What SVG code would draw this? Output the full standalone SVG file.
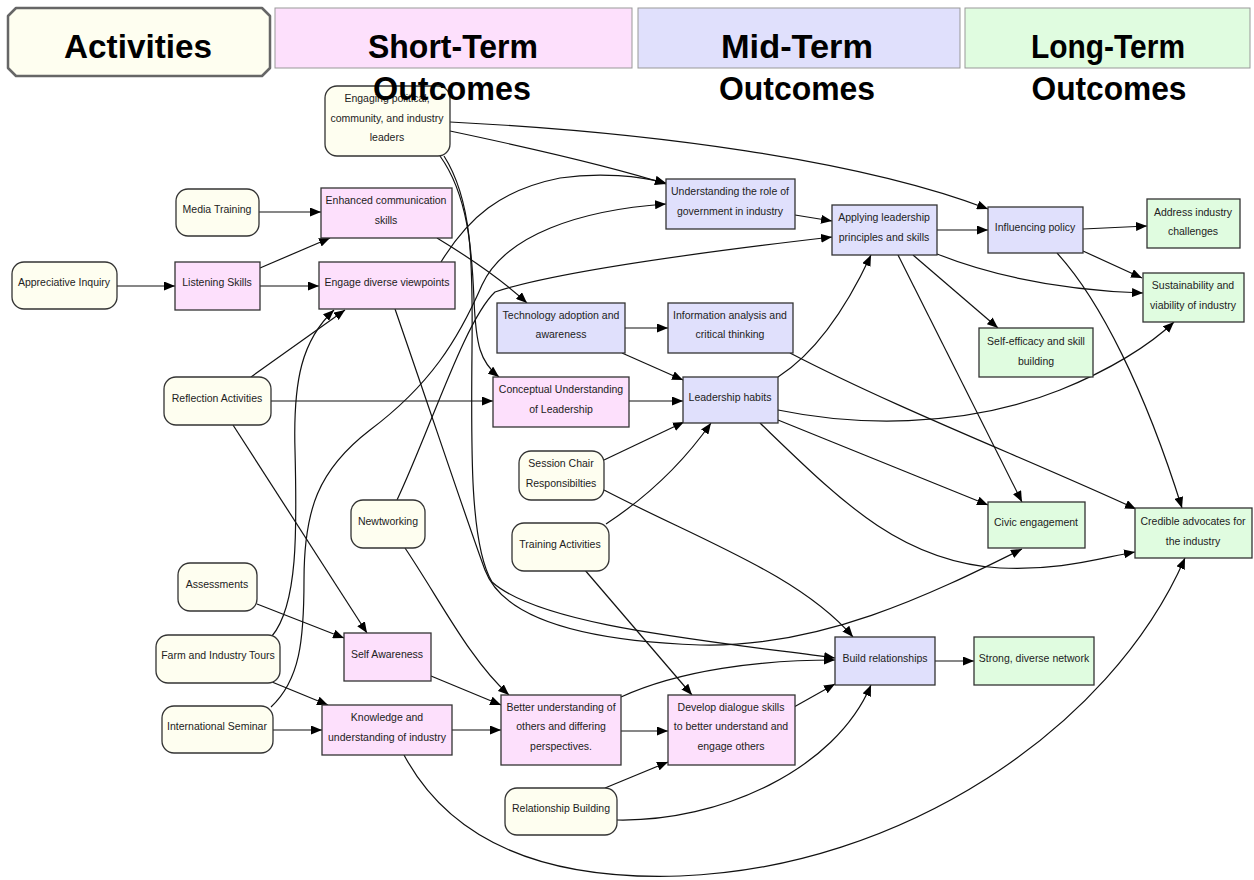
<svg xmlns="http://www.w3.org/2000/svg" width="1254" height="880" viewBox="0 0 1254 880">
<defs>
<marker id="ah" markerWidth="11" markerHeight="9" refX="11" refY="4.5" orient="auto" markerUnits="userSpaceOnUse"><path d="M0,0 L11,4.5 L0,9 z" fill="#000"/></marker>
<style>
.act{fill:#fefef0;stroke:#333;stroke-width:1.3}
.st{fill:#fde0fc;stroke:#333;stroke-width:1.3}
.mt{fill:#e0e0fc;stroke:#333;stroke-width:1.3}
.lt{fill:#e0fce0;stroke:#333;stroke-width:1.3}
.lbl{font-family:"Liberation Sans",Arial,sans-serif;font-size:10.5px;fill:#222;text-anchor:middle}
.edges path{fill:none;stroke:#111;stroke-width:1.2;marker-end:url(#ah)}
.hd{font-family:"Liberation Sans",Arial,sans-serif;font-weight:bold;font-size:34px;fill:#000;text-anchor:middle}
</style>
</defs>
<rect width="1254" height="880" fill="#fff"/>

<g id="connectors" class="edges">
<path d="M 259 212 L 321 212"/>
<path d="M 117 286 L 175 286"/>
<path d="M 260 268 L 330 238"/>
<path d="M 260 286 L 319 286"/>
<path d="M 437 238 C 470 258, 500 278, 527 303"/>
<path d="M 450 131 C 540 150, 610 166, 666 184"/>
<path d="M 450 122 C 650 132, 860 160, 988 209"/>
<path d="M 440 156 C 468 195, 472 250, 474 300 C 476 345, 480 362, 499 377"/>
<path d="M 444 156 C 472 200, 473 260, 472 350 C 471 450, 470 545, 492 582 C 540 625, 700 640, 835 658"/>
<path d="M 441 262 C 468 218, 500 190, 560 178 C 600 172, 640 176, 666 183"/>
<path d="M 395 309 C 430 410, 470 530, 485 570 C 500 610, 560 640, 700 645 C 820 648, 930 595, 1022 549"/>
<path d="M 251 377 L 345 310"/>
<path d="M 272 636 C 298 605, 297 530, 295 450 C 293 380, 302 340, 334 310"/>
<path d="M 271 401 L 493 401"/>
<path d="M 233 425 L 367 633"/>
<path d="M 271 707 C 300 680, 304 640, 304 580 C 304 510, 318 470, 370 430 C 430 385, 458 340, 482 285 C 505 235, 580 210, 666 204"/>
<path d="M 397 500 C 430 430, 465 320, 495 292 C 560 270, 720 250, 832 237"/>
<path d="M 405 548 C 440 600, 470 660, 509 695"/>
<path d="M 257 604 L 344 638"/>
<path d="M 272 682 L 328 705"/>
<path d="M 273 730 L 322 730"/>
<path d="M 431 676 L 501 705"/>
<path d="M 452 730 L 501 730"/>
<path d="M 404 755 C 455 850, 560 880, 680 876 C 900 868, 1110 730, 1185 558"/>
<path d="M 621 731 L 668 731"/>
<path d="M 621 697 C 680 670, 760 660, 835 660"/>
<path d="M 794 707 L 835 684"/>
<path d="M 605 788 L 668 762"/>
<path d="M 617 820 C 720 822, 835 770, 871 685"/>
<path d="M 604 460 L 684 422"/>
<path d="M 604 490 C 700 540, 800 575, 853 637"/>
<path d="M 606 524 C 650 495, 685 460, 711 423"/>
<path d="M 584 569 L 692 695"/>
<path d="M 629 401 L 683 401"/>
<path d="M 625 328 L 668 328"/>
<path d="M 622 353 L 683 380"/>
<path d="M 795 215 L 832 221"/>
<path d="M 790 353 C 900 410, 1030 460, 1136 509"/>
<path d="M 778 377 C 820 350, 850 300, 871 255"/>
<path d="M 778 410 C 850 425, 960 430, 1060 390 C 1110 370, 1150 345, 1174 322"/>
<path d="M 778 420 L 988 505"/>
<path d="M 760 423 C 840 500, 900 562, 1000 568 C 1060 571, 1100 558, 1135 552"/>
<path d="M 937 230 L 988 230"/>
<path d="M 937 254 C 990 275, 1060 290, 1143 293"/>
<path d="M 913 255 L 998 328"/>
<path d="M 898 255 L 1022 502"/>
<path d="M 1083 229 L 1147 226"/>
<path d="M 1083 251 L 1142 278"/>
<path d="M 1057 253 C 1100 300, 1145 390, 1182 508"/>
<path d="M 935 661 L 974 661"/>
</g>

<g id="n_engaging"><rect class="act" x="325" y="86" width="125" height="70" rx="12"/><text class="lbl" x="387" y="102">Engaging political,</text><text class="lbl" x="387" y="122">community, and industry</text><text class="lbl" x="387" y="141">leaders</text></g>
<g id="n_media"><rect class="act" x="176" y="189" width="83" height="47" rx="12"/><text class="lbl" x="217" y="213">Media Training</text></g>
<g id="n_appreciative"><rect class="act" x="12" y="262" width="105" height="47" rx="12"/><text class="lbl" x="64" y="286">Appreciative Inquiry</text></g>
<g id="n_reflection"><rect class="act" x="164" y="377" width="107" height="48" rx="12"/><text class="lbl" x="217" y="402">Reflection Activities</text></g>
<g id="n_newtworking"><rect class="act" x="351" y="500" width="74" height="48" rx="12"/><text class="lbl" x="388" y="525">Newtworking</text></g>
<g id="n_session"><rect class="act" x="519" y="451" width="85" height="49" rx="12"/><text class="lbl" x="561" y="467">Session Chair</text><text class="lbl" x="561" y="487">Responsibilties</text></g>
<g id="n_training"><rect class="act" x="512" y="523" width="97" height="48" rx="12"/><text class="lbl" x="560" y="548">Training Activities</text></g>
<g id="n_assessments"><rect class="act" x="178" y="563" width="79" height="48" rx="12"/><text class="lbl" x="217" y="588">Assessments</text></g>
<g id="n_farm"><rect class="act" x="156" y="635" width="124" height="48" rx="12"/><text class="lbl" x="218" y="659">Farm and Industry Tours</text></g>
<g id="n_intl"><rect class="act" x="162" y="706" width="111" height="47" rx="12"/><text class="lbl" x="217" y="730">International Seminar</text></g>
<g id="n_relbuild"><rect class="act" x="505" y="788" width="112" height="47" rx="12"/><text class="lbl" x="561" y="812">Relationship Building</text></g>

<g id="n_enhanced"><rect class="st" x="321" y="188" width="131" height="50"/><text class="lbl" x="386" y="204">Enhanced communication</text><text class="lbl" x="386" y="224">skills</text></g>
<g id="n_listening"><rect class="st" x="175" y="262" width="85" height="48"/><text class="lbl" x="217" y="286">Listening Skills</text></g>
<g id="n_engage"><rect class="st" x="319" y="262" width="136" height="47"/><text class="lbl" x="387" y="286">Engage diverse viewpoints</text></g>
<g id="n_conceptual"><rect class="st" x="493" y="377" width="136" height="50"/><text class="lbl" x="561" y="393">Conceptual Understanding</text><text class="lbl" x="561" y="413">of Leadership</text></g>
<g id="n_selfaware"><rect class="st" x="344" y="633" width="87" height="48"/><text class="lbl" x="387" y="658">Self Awareness</text></g>
<g id="n_knowledge"><rect class="st" x="322" y="705" width="130" height="50"/><text class="lbl" x="387" y="721">Knowledge and</text><text class="lbl" x="387" y="741">understanding of industry</text></g>
<g id="n_better"><rect class="st" x="501" y="695" width="120" height="70"/><text class="lbl" x="561" y="711">Better understanding of</text><text class="lbl" x="561" y="730">others and differing</text><text class="lbl" x="561" y="750">perspectives.</text></g>
<g id="n_develop"><rect class="st" x="668" y="695" width="127" height="70"/><text class="lbl" x="731" y="711">Develop dialogue skills</text><text class="lbl" x="731" y="730">to better understand and</text><text class="lbl" x="731" y="750">engage others</text></g>

<g id="n_understanding"><rect class="mt" x="666" y="179" width="129" height="50"/><text class="lbl" x="730" y="195">Understanding the role of</text><text class="lbl" x="730" y="215">government in industry</text></g>
<g id="n_applying"><rect class="mt" x="832" y="205" width="105" height="50"/><text class="lbl" x="884" y="221">Applying leadership</text><text class="lbl" x="884" y="241">principles and skills</text></g>
<g id="n_influencing"><rect class="mt" x="988" y="207" width="95" height="46"/><text class="lbl" x="1035" y="231">Influencing policy</text></g>
<g id="n_tech"><rect class="mt" x="497" y="303" width="128" height="50"/><text class="lbl" x="561" y="319">Technology adoption and</text><text class="lbl" x="561" y="338">awareness</text></g>
<g id="n_info"><rect class="mt" x="668" y="303" width="125" height="50"/><text class="lbl" x="730" y="319">Information analysis and</text><text class="lbl" x="730" y="338">critical thinking</text></g>
<g id="n_leadership"><rect class="mt" x="683" y="377" width="95" height="46"/><text class="lbl" x="730" y="401">Leadership habits</text></g>
<g id="n_build"><rect class="mt" x="835" y="637" width="100" height="48"/><text class="lbl" x="885" y="662">Build relationships</text></g>

<g id="n_address"><rect class="lt" x="1147" y="199" width="93" height="49"/><text class="lbl" x="1193" y="216">Address industry</text><text class="lbl" x="1193" y="235">challenges</text></g>
<g id="n_sustain"><rect class="lt" x="1143" y="273" width="101" height="49"/><text class="lbl" x="1193" y="289">Sustainability and</text><text class="lbl" x="1193" y="309">viability of industry</text></g>
<g id="n_selfeff"><rect class="lt" x="979" y="328" width="114" height="49"/><text class="lbl" x="1036" y="345">Self-efficacy and skill</text><text class="lbl" x="1036" y="365">building</text></g>
<g id="n_civic"><rect class="lt" x="988" y="502" width="97" height="46"/><text class="lbl" x="1036" y="526">Civic engagement</text></g>
<g id="n_credible"><rect class="lt" x="1135" y="508" width="117" height="50"/><text class="lbl" x="1193" y="525">Credible advocates for</text><text class="lbl" x="1193" y="545">the industry</text></g>
<g id="n_strong"><rect class="lt" x="974" y="637" width="120" height="48"/><text class="lbl" x="1034" y="662">Strong, diverse network</text></g>

<g id="header">
<path d="M 16 8 L 262 8 L 270 16 L 270 68 L 262 76 L 16 76 L 8 68 L 8 16 Z" fill="#fefef0" stroke="#666" stroke-width="2.5" stroke-linejoin="round"/>
<rect x="275" y="8" width="357" height="60" fill="#fde0fc" stroke="#999" stroke-width="1"/>
<rect x="638" y="8" width="322" height="60" fill="#e0e0fc" stroke="#999" stroke-width="1"/>
<rect x="965" y="8" width="285" height="60" fill="#e0fce0" stroke="#999" stroke-width="1"/>
<text class="hd" x="138" y="58" textLength="148" lengthAdjust="spacingAndGlyphs">Activities</text>
<text class="hd" x="453" y="58" textLength="170" lengthAdjust="spacingAndGlyphs">Short-Term</text>
<text class="hd" x="452" y="100" textLength="158" lengthAdjust="spacingAndGlyphs">Outcomes</text>
<text class="hd" x="797" y="58" textLength="152" lengthAdjust="spacingAndGlyphs">Mid-Term</text>
<text class="hd" x="797" y="100" textLength="156" lengthAdjust="spacingAndGlyphs">Outcomes</text>
<text class="hd" x="1108" y="58" textLength="154" lengthAdjust="spacingAndGlyphs">Long-Term</text>
<text class="hd" x="1109" y="100" textLength="155" lengthAdjust="spacingAndGlyphs">Outcomes</text>
</g>
</svg>
